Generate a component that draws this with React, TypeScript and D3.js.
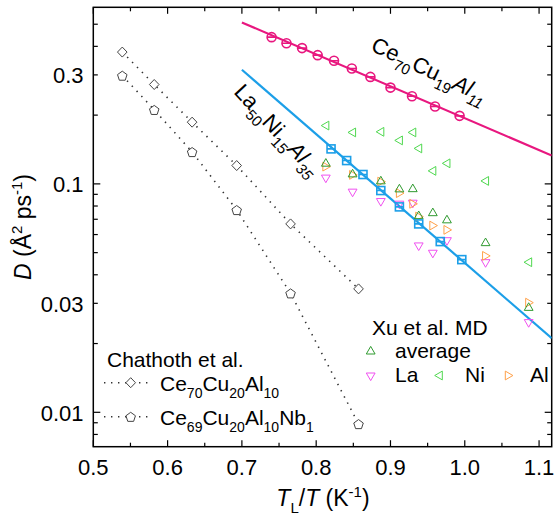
import React, { useEffect, useRef } from 'react'
import * as d3 from 'd3'

// Ce70Cu19Al11 (pink circles) and its fit
const ceX = [0.740, 0.760, 0.781, 0.802, 0.824, 0.848, 0.873, 0.900, 0.929, 0.960, 0.993]
const ceD = [0.439, 0.413, 0.393, 0.366, 0.346, 0.320, 0.294, 0.264, 0.242, 0.218, 0.1985]
const ceFitX = [0.7, 1.117]
const ceFitD = [0.509, 0.133]

// La50Ni15Al35 (blue squares) and its fit
const laX = [0.820, 0.841, 0.863, 0.887, 0.912, 0.938, 0.967, 0.996]
const laD = [0.1423, 0.1265, 0.1099, 0.0935, 0.0793, 0.0668, 0.0559, 0.0466]
const laFitX = [0.7, 1.117]
const laFitD = [0.316, 0.0211]

// Chathoth et al.
const chX = [0.539, 0.582, 0.633, 0.693, 0.7655, 0.857]
const chCeD = [0.3776, 0.2723, 0.1863, 0.1203, 0.0668, 0.0347]
const chNbD = [0.298, 0.211, 0.138, 0.0769, 0.0332, 0.00889]

// Xu et al. MD
const xuX = [0.813, 0.849, 0.887, 0.912, 0.930, 0.938, 0.957, 0.976, 1.028, 1.086]
const xuAvg = [0.1232, 0.1106, 0.1031, 0.0951, 0.0953, 0.0726, 0.0748, 0.0696, 0.0553, 0.0288]
const xuLa = [0.106, 0.0920, 0.0837, 0.0815, 0.0823, 0.0535, 0.0497, 0.0564, 0.0452, 0.0247]
const xuNi = [0.180, 0.168, 0.169, 0.155, 0.168, 0.143, 0.114, 0.123, 0.103, 0.0454]
const xuAl = [0.119, 0.1095, 0.1023, 0.0911, 0.0818, 0.0719, 0.0657, 0.0629, 0.0484, 0.0302]

const xTicks = [0.5, 0.6, 0.7, 0.8, 0.9, 1.0, 1.1]
const xTickLabels = ['0.5', '0.6', '0.7', '0.8', '0.9', '1.0', '1.1']
const yTicks = [0.01, 0.03, 0.1, 0.3]
const yTickLabels = ['0.01', '0.03', '0.1', '0.3']

const PINK = '#e8177f'
const BLUE = '#1c9fe8'
const C_AVG = '#2f9a2f'
const C_LA = '#f050f0'
const C_NI = '#4fd84f'
const C_AL = '#ffa048'
const FONT = '"Liberation Sans", Arial, Helvetica, sans-serif'

const W = 554, H = 516
const L = 93.3, R = 551.7, T = 7.3, B = 446.7

const tri = (dir) => {
  const p = [[0, -4.6], [4.4, 3.0], [-4.4, 3.0]]
  const a = { up: 0, right: 90, down: 180, left: 270 }[dir] * Math.PI / 180
  return 'M' + p.map(([x, y]) => [x * Math.cos(a) - y * Math.sin(a), x * Math.sin(a) + y * Math.cos(a)].map(v => v.toFixed(2)).join(',')).join('L') + 'Z'
}
const diamond = 'M0,-5L4.8,0L0,5L-4.8,0Z'
const pentagon = 'M' + d3.range(5).map(i => {
  const a = -Math.PI / 2 + i * 2 * Math.PI / 5
  return [5 * Math.cos(a), 5 * Math.sin(a) + 0.6].map(v => v.toFixed(2)).join(',')
}).join('L') + 'Z'

// parts: [text, kind] kind: '' | 'i' | 'sub' | 'isub' | 'sup'
function rich(text, parts, size, small, subDy, supDy) {
  let cur = 0
  parts.forEach(([t, k = '']) => {
    const target = k.includes('sub') ? subDy : k === 'sup' ? supDy : 0
    const ts = text.append('tspan').text(t)
    if (target - cur !== 0) ts.attr('dy', target - cur)
    cur = target
    ts.attr('font-size', target !== 0 ? small : size)
    if (k.startsWith('i')) ts.attr('font-style', 'italic')
  })
}

export default function App() {
  const ref = useRef(null)

  useEffect(() => {
    const svg = d3.select(ref.current)
    svg.selectAll('*').remove()

    const x = d3.scaleLinear().domain([0.5, 1.117]).range([L, R])
    const y = d3.scaleLog().domain([0.00707, 0.593]).range([B, T])

    svg.append('defs').append('clipPath').attr('id', 'plot')
      .append('rect').attr('x', L).attr('y', T).attr('width', R - L).attr('height', B - T)

    // frame
    svg.append('rect').attr('x', L).attr('y', T).attr('width', R - L).attr('height', B - T)
      .attr('fill', 'none').attr('stroke', '#000').attr('stroke-width', 1.5)

    const ticks = svg.append('g').attr('stroke', '#000').attr('stroke-width', 1.2)
    const xMinor = d3.range(0.55, 1.11, 0.1)
    xTicks.concat(xMinor).forEach((v, i) => {
      const len = i < xTicks.length ? 6.5 : 4
      ticks.append('line').attr('x1', x(v)).attr('x2', x(v)).attr('y1', B).attr('y2', B - len)
      ticks.append('line').attr('x1', x(v)).attr('x2', x(v)).attr('y1', T).attr('y2', T + len)
    })
    y.ticks().forEach(v => {
      const lg = Math.log10(v)
      const len = Math.abs(lg - Math.round(lg)) < 1e-6 ? 7 : 4.5
      ticks.append('line').attr('y1', y(v)).attr('y2', y(v)).attr('x1', L).attr('x2', L + len)
      ticks.append('line').attr('y1', y(v)).attr('y2', y(v)).attr('x1', R).attr('x2', R - len)
    })

    const lab = svg.append('g').attr('font-family', FONT).attr('font-size', 22).attr('fill', '#000')
    xTicks.forEach((v, i) => {
      lab.append('text').attr('x', x(v)).attr('y', 475).attr('text-anchor', 'middle').text(xTickLabels[i])
    })
    yTicks.forEach((v, i) => {
      lab.append('text').attr('x', 83.5).attr('y', y(v) + 8.2).attr('text-anchor', 'end').text(yTickLabels[i])
    })

    // axis titles
    const xt = lab.append('text').attr('x', 323).attr('y', 506).attr('text-anchor', 'middle').attr('font-size', 23)
    rich(xt, [['T', 'i'], ['L', 'sub'], ['/'], ['T', 'i'], [' (K'], ['-1', 'sup'], [')']], 23, 15, 7, -9)
    const yt = lab.append('text').attr('transform', 'translate(31,227) rotate(-90)').attr('text-anchor', 'middle').attr('font-size', 23)
    rich(yt, [['D', 'i'], [' (Å'], ['2', 'sup'], [' ps'], ['-1', 'sup'], [')']], 23, 15, 7, -9)

    const plot = svg.append('g').attr('clip-path', 'url(#plot)')

    const line = d3.line().x(d => x(d[0])).y(d => y(d[1]))
    // fit lines
    plot.append('path').attr('d', line(d3.zip(ceFitX, ceFitD))).attr('fill', 'none').attr('stroke', PINK).attr('stroke-width', 2.2)
    plot.append('path').attr('d', line(d3.zip(laFitX, laFitD))).attr('fill', 'none').attr('stroke', BLUE).attr('stroke-width', 2.2)

    // Chathoth dotted lines
    const dotted = (g, pts) => g.append('path').attr('d', line(pts)).attr('fill', 'none')
      .attr('stroke', '#333').attr('stroke-width', 1.6).attr('stroke-dasharray', '1.4 5.6')
    dotted(plot, d3.zip(chX, chCeD))
    dotted(plot, d3.zip(chX, chNbD))
    const marker = (g, px, py, d, color, sw = 1) => g.append('path').attr('d', d)
      .attr('transform', `translate(${px},${py})`).attr('fill', '#fff').attr('fill-opacity', 0)
      .attr('stroke', color).attr('stroke-width', sw)
    chX.forEach((v, i) => {
      marker(plot, x(v), y(chCeD[i]), diamond, '#444').attr('fill-opacity', 1)
      marker(plot, x(v), y(chNbD[i]), pentagon, '#444').attr('fill-opacity', 1)
    })

    // Xu MD
    xuX.forEach((v, i) => {
      marker(plot, x(v), y(xuNi[i]), tri('left'), C_NI)
      marker(plot, x(v), y(xuLa[i]), tri('down'), C_LA)
      marker(plot, x(v), y(xuAl[i]), tri('right'), C_AL)
      marker(plot, x(v), y(xuAvg[i]), tri('up'), C_AVG)
    })

    // experiments
    laX.forEach((v, i) => {
      const g = plot.append('g').attr('transform', `translate(${x(v)},${y(laD[i])})`)
        .attr('stroke', BLUE).attr('stroke-width', 1.6).attr('fill', 'none')
      g.append('rect').attr('x', -4).attr('y', -4).attr('width', 8).attr('height', 8)
      g.append('line').attr('x1', -4).attr('x2', 4).attr('y1', 0).attr('y2', 0)
    })
    ceX.forEach((v, i) => {
      const g = plot.append('g').attr('transform', `translate(${x(v)},${y(ceD[i])})`)
        .attr('stroke', PINK).attr('stroke-width', 1.6).attr('fill', 'none')
      g.append('circle').attr('r', 4.5)
      g.append('line').attr('x1', -4.5).attr('x2', 4.5).attr('y1', 0).attr('y2', 0)
    })

    // labels on lines
    const ceLab = lab.append('text').attr('transform', 'translate(428,73) rotate(25)').attr('y', 4).attr('text-anchor', 'middle').attr('font-size', 22)
    rich(ceLab, [['Ce'], ['70', 'sub'], ['Cu'], ['19', 'sub'], ['Al', 'i'], ['11', 'isub']], 22, 15, 7, -9)
    const laLab = lab.append('text').attr('transform', 'translate(275,132) rotate(47)').attr('y', 4).attr('text-anchor', 'middle').attr('font-size', 22)
    rich(laLab, [['La'], ['50', 'sub'], ['Ni'], ['15', 'sub'], ['Al', 'i'], ['35', 'isub']], 22, 15, 7, -9)

    // Chathoth legend
    const leg = svg.append('g').attr('font-family', FONT).attr('font-size', 21)
    leg.append('text').attr('x', 107).attr('y', 366.7).text('Chathoth et al.')
    const legRows = [
      { y: 382.7, shape: diamond, parts: [['Ce'], ['70', 'sub'], ['Cu'], ['20', 'sub'], ['Al'], ['10', 'sub']] },
      { y: 416.7, shape: pentagon, parts: [['Ce'], ['69', 'sub'], ['Cu'], ['20', 'sub'], ['Al'], ['10', 'sub'], ['Nb'], ['1', 'sub']] },
    ]
    legRows.forEach(r => {
      leg.append('path').attr('d', `M104,${r.y}H153`).attr('fill', 'none').attr('stroke', '#333')
        .attr('stroke-width', 1.6).attr('stroke-dasharray', '1.4 5.6')
      marker(leg, 130.7, r.y, r.shape, '#444').attr('fill-opacity', 1)
      rich(leg.append('text').attr('x', 160).attr('y', r.y + 8), r.parts, 21, 14, 7, -9)
    })

    // Xu legend
    leg.append('text').attr('x', 372).attr('y', 335).text('Xu et al. MD')
    marker(leg, 370.7, 351, tri('up'), C_AVG)
    leg.append('text').attr('x', 395).attr('y', 358.3).text('average')
    marker(leg, 370.7, 376, tri('down'), C_LA)
    leg.append('text').attr('x', 395).attr('y', 382).text('La')
    marker(leg, 439.3, 375.5, tri('left'), C_NI)
    leg.append('text').attr('x', 465).attr('y', 382).text('Ni')
    marker(leg, 508.3, 375.5, tri('right'), C_AL)
    leg.append('text').attr('x', 530).attr('y', 382).text('Al')
  }, [])

  return (
    <svg ref={ref} width={W} height={H} style={{ position: 'absolute', left: 0, top: 0, background: '#fff' }} />
  )
}
